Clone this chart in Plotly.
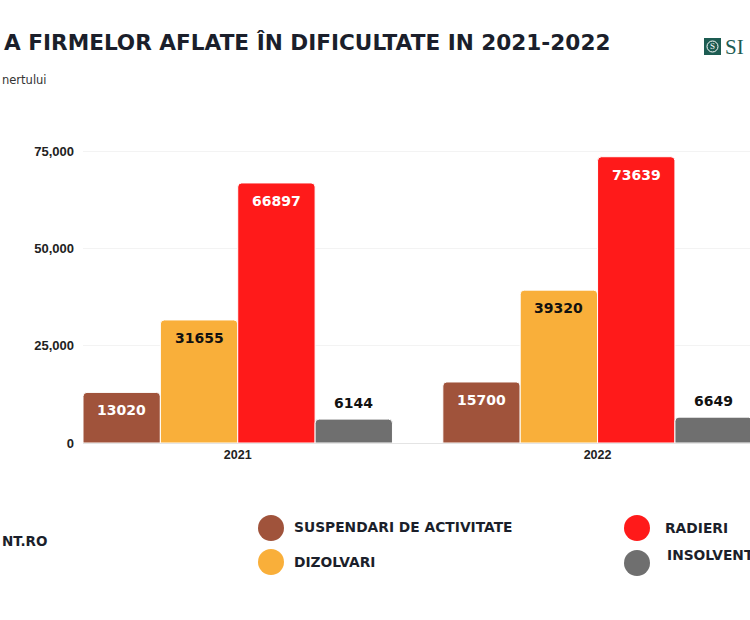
import plotly.graph_objects as go

years = ["2021", "2022"]
series_names = ["SUSPENDARI DE ACTIVITATE", "DIZOLVARI", "RADIERI", "INSOLVENTE"]
suspendari = [13020, 15700]
dizolvari = [31655, 39320]
radieri = [66897, 73639]
insolvente = [6144, 6649]
y_ticks = [0, 25000, 50000, 75000]

values = [suspendari, dizolvari, radieri, insolvente]
colors = ["#A0533B", "#F9AF3A", "#FF1A1A", "#6F6F6F"]
label_colors = ["#FFFFFF", "#111111", "#FFFFFF", "#111111"]
label_inside = [True, True, True, False]

W, H = 750, 620
L, R, T, B = 83, 750, 132, 443
BARGAP = 0.14


def px(x):
    return (x - L) / (R - L)


def py(y):
    return (B - y) / (B - T)


xpos = list(range(len(years)))
fig = go.Figure()
for name, vals, col in zip(series_names, values, colors):
    fig.add_trace(go.Bar(
        x=xpos, y=vals, name=name,
        marker=dict(color=col, line=dict(color="#FFFFFF", width=1)),
        showlegend=False, hoverinfo="skip",
    ))

# value labels
bw = (1 - BARGAP) / len(series_names)
ann = []
for i, (vals, tc, inside) in enumerate(zip(values, label_colors, label_inside)):
    for j, v in enumerate(vals):
        ann.append(dict(
            x=xpos[j] + (i - (len(series_names) - 1) / 2) * bw, y=v,
            xref="x", yref="y", text=str(v), showarrow=False,
            yanchor="middle", yshift=-18 if inside else 16,
            font=dict(family="DejaVu Sans", size=14, color=tc, weight="bold"),
        ))

dark = "#1B1F2B"
# title, subtitle, source
ann.append(dict(x=px(2), y=py(43), xref="paper", yref="paper", xanchor="left", yanchor="middle",
                text="A FIRMELOR AFLATE ÎN DIFICULTATE IN 2021-2022", showarrow=False,
                font=dict(family="DejaVu Sans", size=21.6, color=dark, weight="bold")))
ann.append(dict(x=px(0), y=py(80), xref="paper", yref="paper", xanchor="left", yanchor="middle",
                text="nertului", showarrow=False,
                font=dict(family="DejaVu Sans", size=11.5, color="#333333")))
ann.append(dict(x=px(0), y=py(541), xref="paper", yref="paper", xanchor="left", yanchor="middle",
                text="NT.RO", showarrow=False,
                font=dict(family="DejaVu Sans", size=13.5, color=dark, weight="bold")))
# logo text
ann.append(dict(x=px(723), y=py(47), xref="paper", yref="paper", xanchor="left", yanchor="middle",
                text="SI", showarrow=False,
                font=dict(family="Liberation Serif", size=21, color="#1D5C52")))
ann.append(dict(x=px(712.5), y=py(46.5), xref="paper", yref="paper", xanchor="center", yanchor="middle",
                text="S", showarrow=False,
                font=dict(family="Liberation Serif", size=9, color="#FFFFFF")))

shapes = [
    dict(type="rect", xref="paper", yref="paper", x0=px(704), x1=px(721), y0=py(55), y1=py(38),
         fillcolor="#1D5C52", line=dict(width=0), layer="above"),
    dict(type="circle", xref="paper", yref="paper", x0=px(707), x1=px(718), y0=py(52), y1=py(41),
         fillcolor="rgba(0,0,0,0)", line=dict(color="#FFFFFF", width=1), layer="above"),
]

# manual legend
leg = [(271, 528, 292, 527), (271, 562, 292, 562), (637, 528, 663, 528), (637, 563, 665, 555)]
for (cx, cy, tx, ty), name, col in zip(leg, series_names, colors):
    r = 13
    shapes.append(dict(type="circle", xref="paper", yref="paper",
                       x0=px(cx - r), x1=px(cx + r), y0=py(cy + r), y1=py(cy - r),
                       fillcolor=col, line=dict(width=0)))
    ann.append(dict(x=px(tx), y=py(ty), xref="paper", yref="paper", xanchor="left", yanchor="middle",
                    text=name, showarrow=False,
                    font=dict(family="DejaVu Sans", size=13.8, color=dark, weight="bold")))

fig.update_layout(
    width=W, height=H,
    margin=dict(l=L, r=W - R, t=T, b=H - B, pad=0),
    paper_bgcolor="#FFFFFF", plot_bgcolor="#FFFFFF",
    barmode="group", bargap=BARGAP, bargroupgap=0, barcornerradius=4,
    annotations=ann, shapes=shapes,
    xaxis=dict(
        tickvals=xpos, ticktext=years, range=[-0.5 + BARGAP / 2, (R - 237.5) / 360],
        showgrid=False, zeroline=False, showline=True, linecolor="#E4E4E4", linewidth=1,
        ticks="", tickfont=dict(family="Liberation Sans", size=12.5, color="#222222", weight="bold"),
        fixedrange=True,
    ),
    yaxis=dict(
        range=[0, 80000], tickvals=y_ticks, tickformat=",",
        showgrid=True, gridcolor="#F3F3F3", gridwidth=1, zeroline=False,
        ticks="", ticklabelstandoff=8,
        tickfont=dict(family="Liberation Sans", size=13, color="#222222", weight="bold"),
        fixedrange=True,
    ),
)

fig.write_html(
    "out.html",
    config={"displayModeBar": False},
    post_script="document.body.style.margin='0';document.body.style.overflow='hidden';",
)
